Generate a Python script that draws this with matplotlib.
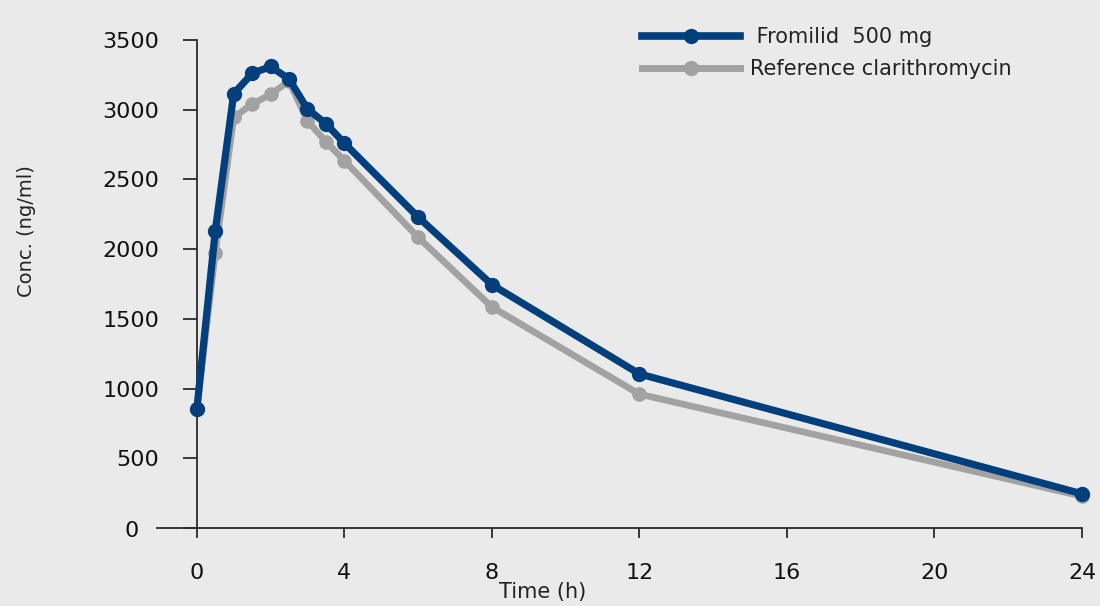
import matplotlib
matplotlib.use("Agg")
import matplotlib.pyplot as plt
from matplotlib.lines import Line2D

# ---- data ----
time_h = [0, 0.5, 1, 1.5, 2, 2.5, 3, 3.5, 4, 6, 8, 12, 24]
fromilid = [850, 2130, 3115, 3260, 3310, 3220, 3005, 2900, 2760, 2230, 1745, 1105, 245]
reference = [850, 1975, 2945, 3040, 3110, 3205, 2920, 2770, 2635, 2085, 1585, 960, 228]
x_ticks = [0, 4, 8, 12, 16, 20, 24]
y_ticks = [0, 500, 1000, 1500, 2000, 2500, 3000, 3500]
series_labels = [" Fromilid  500 mg", "Reference clarithromycin"]

BLUE = "#033f7c"
GRAY = "#a2a2a2"
BG = "#eaeaea"
AXC = "#2b2b2b"

plt.rcParams["font.family"] = ["DejaVu Sans"]

fig = plt.figure(figsize=(11.0, 6.06), dpi=100, facecolor=BG)
ax = fig.add_axes([157 / 1100, 1 - 528 / 606, (1082 - 157) / 1100, (528 - 40) / 606])
ax.set_facecolor("none")

ax.plot(time_h, reference, color=GRAY, lw=4.8, marker="o", ms=9.5,
        solid_joinstyle="round", zorder=3, clip_on=False)
ax.plot(time_h, fromilid, color=BLUE, lw=5.2, marker="o", ms=10,
        solid_joinstyle="round", zorder=4, clip_on=False)

ax.set_xlim(-1.08, 24)
ax.set_ylim(0, 3500)
ax.set_xticks(x_ticks)
ax.set_yticks(y_ticks)
ax.set_xticklabels([str(v) for v in x_ticks])
# the "0" label of the y axis sits further left in the original
ax.set_yticklabels(["" if v == 0 else str(v) for v in y_ticks])
ax.annotate(str(y_ticks[0]), xy=(0, y_ticks[0]), xycoords="data",
            xytext=(-42, -2), textcoords="offset points",
            ha="right", va="center", fontsize=16, color="#111111",
            annotation_clip=False)

for s in ["top", "right"]:
    ax.spines[s].set_visible(False)
ax.spines["left"].set_position(("data", 0))
for s in ["left", "bottom"]:
    ax.spines[s].set_color(AXC)
    ax.spines[s].set_linewidth(1.3)

ax.tick_params(axis="y", direction="out", length=10, width=1.3, color=AXC,
               pad=17, labelsize=16, labelcolor="#111111")
ax.tick_params(axis="x", direction="out", length=7, width=1.3, color=AXC,
               pad=18, labelsize=16, labelcolor="#111111")

fig.text(543 / 1100, 1 - 592 / 606, "Time (h)", ha="center", va="center",
         fontsize=15, color="#222222")
fig.text(26 / 1100, 1 - 231 / 606, "Conc. (ng/ml)", ha="center", va="center",
         rotation=90, fontsize=14, color="#222222")

handles = [
    Line2D([], [], color=BLUE, lw=5.5, marker="o", ms=10),
    Line2D([], [], color=GRAY, lw=5.0, marker="o", ms=10),
]
fig.legend(handles, series_labels, loc="upper left",
           bbox_to_anchor=(632 / 1100, 1 - 16.5 / 606), frameon=False,
           borderpad=0, handlelength=4.7, handletextpad=0.48,
           labelspacing=0.6, fontsize=15, numpoints=1, labelcolor="#222222")

fig.savefig("out.png", dpi=100, facecolor=BG)
